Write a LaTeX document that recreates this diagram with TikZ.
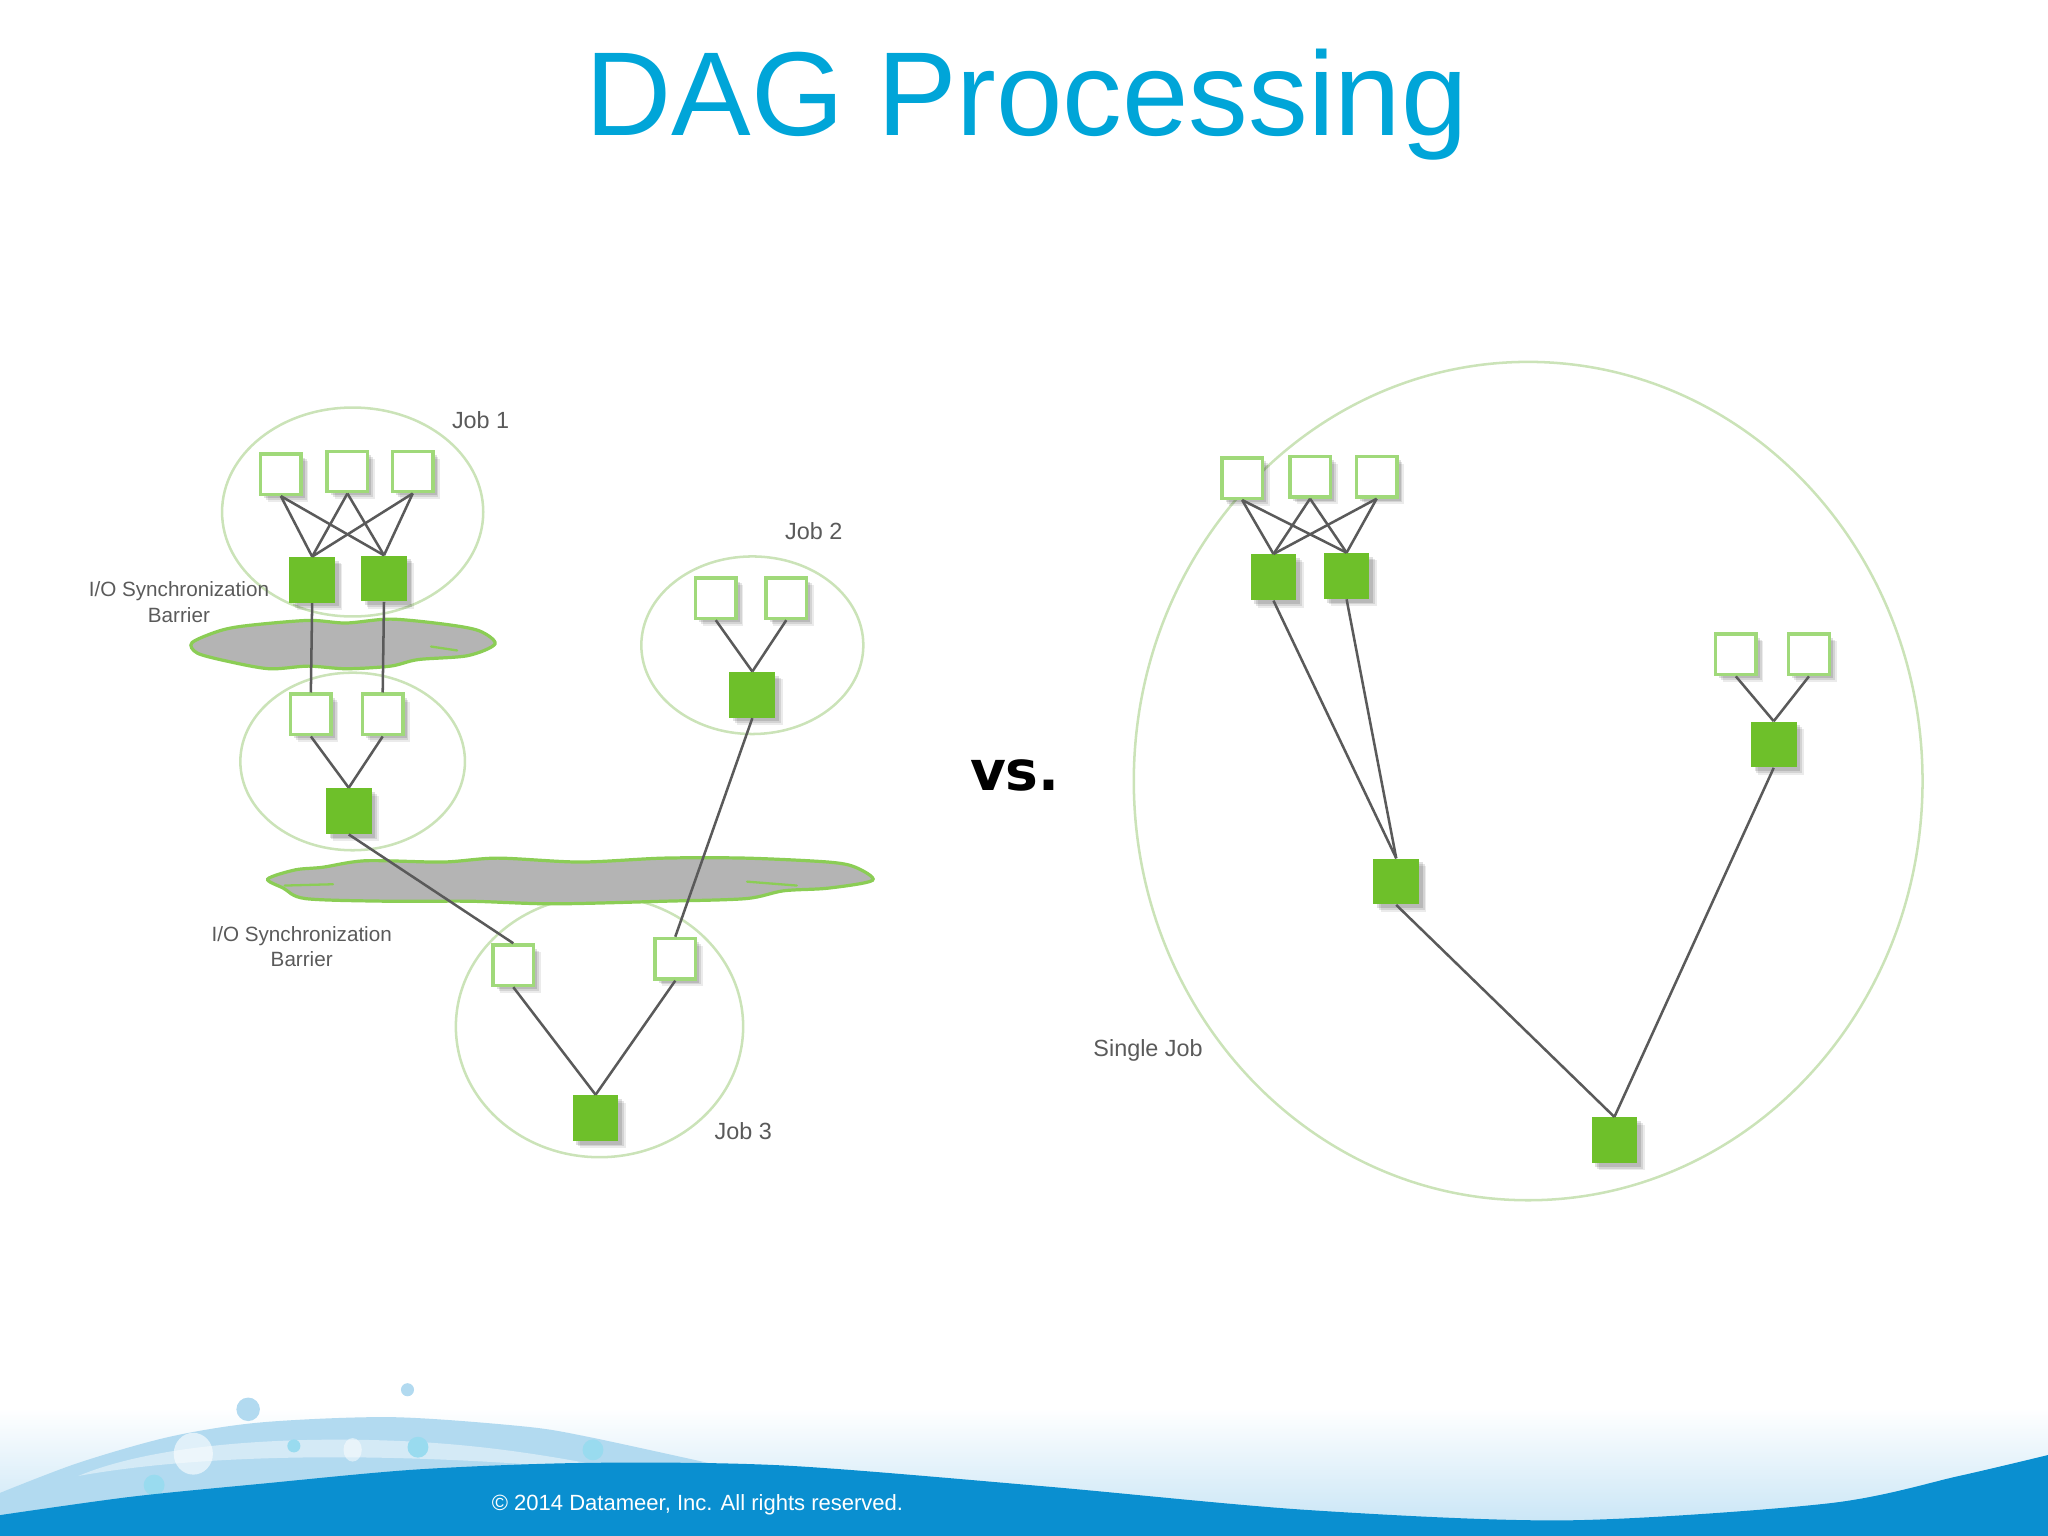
\documentclass[tikz,border=0pt]{standalone}
\usepackage{fontspec}
\setmainfont{Liberation Sans}
\newfontfamily\vsfont{DejaVu Sans}
\usepackage{xcolor}
\usetikzlibrary{shapes.geometric,positioning,shadows}
\definecolor{titleblue}{HTML}{00A5D8}
\definecolor{taskgreen}{HTML}{6EC02A}
\definecolor{rimgreen}{HTML}{A0D97A}
\definecolor{ringgreen}{HTML}{CBE3B8}
\definecolor{linegray}{HTML}{5A5A5A}
\definecolor{cloudgray}{HTML}{B4B4B4}
\definecolor{waveblue}{HTML}{0A8FD0}
\definecolor{swooshblue}{HTML}{B2DAF0}
\definecolor{paleblue}{HTML}{C4E3F5}

\begin{document}
\begin{tikzpicture}[
    x=0.02cm, y=-0.02cm,
    softshadow/.style={
        drop shadow={shadow xshift=3.2pt, shadow yshift=-3.2pt, fill=black, opacity=.08},
        drop shadow={shadow xshift=2.4pt, shadow yshift=-2.4pt, fill=black, opacity=.10},
        drop shadow={shadow xshift=1.6pt, shadow yshift=-1.6pt, fill=black, opacity=.12}},
    whitetask/.style={rectangle, draw=rimgreen, line width=1.5pt, fill=white, minimum size=0.62cm, inner sep=0pt, softshadow},
    greentask/.style={rectangle, fill=taskgreen, minimum size=0.7cm, inner sep=0pt, softshadow},
    jobring/.style={ellipse, draw=ringgreen, line width=1.1pt, inner sep=0pt},
    barrier/.style={draw=taskgreen!80, line width=1.4pt, fill=cloudgray},
    wisp/.style={draw=taskgreen!80, line width=1pt, line cap=round},
    link/.style={draw=linegray, line width=1.1pt},
    note/.style={text=linegray, font=\fontsize{9}{11}\selectfont, align=center},
    jobnote/.style={text=linegray, font=\fontsize{10.2}{12}\selectfont},
]
    \useasboundingbox (0,0) rectangle (1568,1176);

    % footer
    \shade[top color=white, bottom color=paleblue] (0,1078) rectangle (1568,1176);
    \fill[swooshblue] plot[smooth] coordinates {(0,1143) (60,1120) (130,1100) (200,1089) (300,1085) (400,1092) (450,1100) (560,1124)}
        -- (560,1176) -- (0,1176) -- cycle;
    \fill[white, opacity=.45] (60,1130) .. controls (120,1105) and (220,1100) .. (300,1103)
        .. controls (380,1106) and (440,1118) .. (500,1130) .. controls (400,1118) and (200,1105) .. (60,1130) -- cycle;
    \fill[white, opacity=.6] (148,1113) ellipse (15 and 16);
    \fill[white, opacity=.5] (270,1110) ellipse (7 and 9);
    \fill[swooshblue] (190,1079) circle (9);
    \fill[swooshblue] (312,1064) circle (5);
    \fill[titleblue!40] (320,1108) circle (8);
    \fill[titleblue!40] (225,1107) circle (5);
    \fill[titleblue!40] (454,1110) circle (8);
    \fill[titleblue!40] (118,1137) circle (8);
    \fill[waveblue] plot[smooth] coordinates {(0,1160) (100,1146) (200,1136) (320,1125) (450,1120) (600,1122) (800,1138)
        (1000,1156) (1200,1164) (1400,1151) (1500,1130) (1568,1114)} -- (1568,1176) -- (0,1176) -- cycle;

    \node[text=titleblue, font=\fontsize{52}{60}\selectfont] (title) at (786,80) {DAG Processing};
    \node[font=\vsfont\bfseries\fontsize{24}{28}\selectfont] (versus) at (777,594) {vs.};
    \node[text=white, font=\fontsize{9.6}{11}\selectfont] (legal) at (534,1152) {© 2014 Datameer, Inc. All rights reserved.};

    % left side: three jobs
    \node[jobring, minimum width=4cm, minimum height=3.2cm] (ringA) at (270,392) {};
    \node[jobring, minimum width=3.44cm, minimum height=2.72cm] (ringB) at (270,583) {};
    \node[jobring, minimum width=3.4cm, minimum height=2.72cm] (ringC) at (576,494) {};
    \node[jobring, minimum width=4.4cm, minimum height=4cm] (ringD) at (459,786) {};

    \draw[barrier] plot[smooth cycle, tension=.5] coordinates {(147,492) (168,483) (189,479) (236,475) (265,477)
        (299,474) (341,478) (367,483) (379,493) (358,502) (320,505) (299,510) (265,512) (236,510) (206,512) (173,506) (151,500)};
    \draw[wisp] (330,495) -- (350,498);
    \draw[barrier] plot[smooth cycle, tension=.5] coordinates {(205,673) (226,666) (247,664) (280,659) (339,660) (381,657)
        (444,660) (508,657) (571,657) (634,660) (655,664) (668,674) (634,680) (600,682) (571,688) (508,690)
        (423,692) (360,690) (297,690) (234,688) (217,680)};
    \draw[wisp] (218,678) -- (255,677);
    \draw[wisp] (572,675) -- (610,678);

    \node[whitetask] (a1) at (215,363) {};
    \node[whitetask] (a2) at (266,361) {};
    \node[whitetask] (a3) at (316,361) {};
    \node[greentask] (a4) at (239,444) {};
    \node[greentask] (a5) at (294,443) {};
    \node[whitetask] (b1) at (238,547) {};
    \node[whitetask] (b2) at (293,547) {};
    \node[greentask] (b3) at (267,621) {};
    \node[whitetask] (c1) at (548,458) {};
    \node[whitetask] (c2) at (602,458) {};
    \node[greentask] (c3) at (576,532) {};
    \node[whitetask] (d1) at (393,739) {};
    \node[whitetask] (d2) at (517,734) {};
    \node[greentask] (d3) at (456,856) {};

    \draw[link] (a1.south) -- (a4.north);
    \draw[link] (a1.south) -- (a5.north);
    \draw[link] (a2.south) -- (a4.north);
    \draw[link] (a2.south) -- (a5.north);
    \draw[link] (a3.south) -- (a4.north);
    \draw[link] (a3.south) -- (a5.north);
    \draw[link] (a4.south) -- (b1.north);
    \draw[link] (a5.south) -- (b2.north);
    \draw[link] (b1.south) -- (b3.north);
    \draw[link] (b2.south) -- (b3.north);
    \draw[link] (c1.south) -- (c3.north);
    \draw[link] (c2.south) -- (c3.north);
    \draw[link] (b3.south) -- (d1.north);
    \draw[link] (c3.south) -- (d2.north);
    \draw[link] (d1.south) -- (d3.north);
    \draw[link] (d2.south) -- (d3.north);

    \node[jobnote] (jobA) at (368,322) {Job 1};
    \node[jobnote] (jobC) at (623,407) {Job 2};
    \node[jobnote] (jobD) at (569,866) {Job 3};
    \node[note] (barrierA) at (137,461) {I/O Synchronization\\Barrier};
    \node[note] (barrierB) at (231,725) {I/O Synchronization\\Barrier};

    % right side: one job
    \node[jobring, minimum width=12.08cm, minimum height=12.84cm] (ringS) at (1170,598) {};

    \node[whitetask] (s1) at (951,366) {};
    \node[whitetask] (s2) at (1003,365) {};
    \node[whitetask] (s3) at (1054,365) {};
    \node[greentask] (s4) at (975,442) {};
    \node[greentask] (s5) at (1031,441) {};
    \node[greentask] (s6) at (1069,675) {};
    \node[whitetask] (s7) at (1329,501) {};
    \node[whitetask] (s8) at (1385,501) {};
    \node[greentask] (s9) at (1358,570) {};
    \node[greentask] (s10) at (1236,873) {};

    \draw[link] (s1.south) -- (s4.north);
    \draw[link] (s1.south) -- (s5.north);
    \draw[link] (s2.south) -- (s4.north);
    \draw[link] (s2.south) -- (s5.north);
    \draw[link] (s3.south) -- (s4.north);
    \draw[link] (s3.south) -- (s5.north);
    \draw[link] (s4.south) -- (s6.north);
    \draw[link] (s5.south) -- (s6.north);
    \draw[link] (s7.south) -- (s9.north);
    \draw[link] (s8.south) -- (s9.north);
    \draw[link] (s6.south) -- (s10.north);
    \draw[link] (s9.south) -- (s10.north);

    \node[jobnote] (jobS) at (879,804) {Single Job};
\end{tikzpicture}
\end{document}
